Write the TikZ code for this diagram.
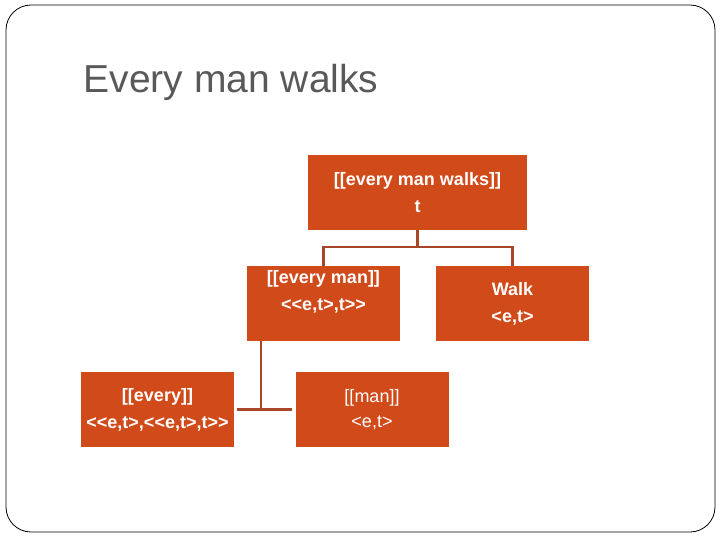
\documentclass[tikz,border=0pt]{standalone}
\usepackage{fontspec}
\setmainfont{Liberation Sans}[Ligatures=TeXOff]
\usepackage{tikz}

\definecolor{boxred}{RGB}{208,74,26}
\definecolor{linebrown}{RGB}{168,70,42}
\definecolor{titlegray}{RGB}{89,89,89}

\begin{document}
\begin{tikzpicture}[x=1pt,y=-1pt,thick]
		\tikzstyle{word}=[fill=boxred,text=white,align=center,inner sep=0pt,minimum width=153pt,minimum height=75pt,font=\fontsize{18}{27}\selectfont\bfseries]
		\tikzstyle{plain}=[word,font=\fontsize{18}{25}\selectfont]
		\tikzstyle{link}=[draw=linebrown,line width=2.4pt]

		\useasboundingbox (0,0) rectangle (720,540);
		\draw[black,line width=0.8pt,rounded corners=25pt] (6,5) rectangle (715,532);

		\node[anchor=base west,text=titlegray,font=\fontsize{39}{44}\selectfont](title) at (80,93){Every man walks};

		\node[word,minimum width=219pt](s) at (417.5,192.5){[[every man walks]]\\t};
%  
		\node[word](em) at (323.5,303.5){[[every man]]\\<<e,t>,t>>\\\mbox{}};
		\node[word](walk) at (512.5,303.5){Walk\\<e,t>};
%  
		\node[word](every) at (157.5,409.5){[[every]]\\<<e,t>,<<e,t>,t>>};
		\node[plain](man) at (372,409.5){[[man]]\\<e,t>};

		\coordinate (split) at (417.5,247);
		\coordinate (join) at (261,409.5);

		\draw[link] (s.south) -- (split);
		\draw[link] (split) -| (em.north);
		\draw[link] (split) -| (walk.north);

		\draw[link,shorten <=3pt,shorten >=3pt] (every.east) -- (man.west);
		\draw[link] (join |- em.south) -- (join);
	\end{tikzpicture}
\end{document}
